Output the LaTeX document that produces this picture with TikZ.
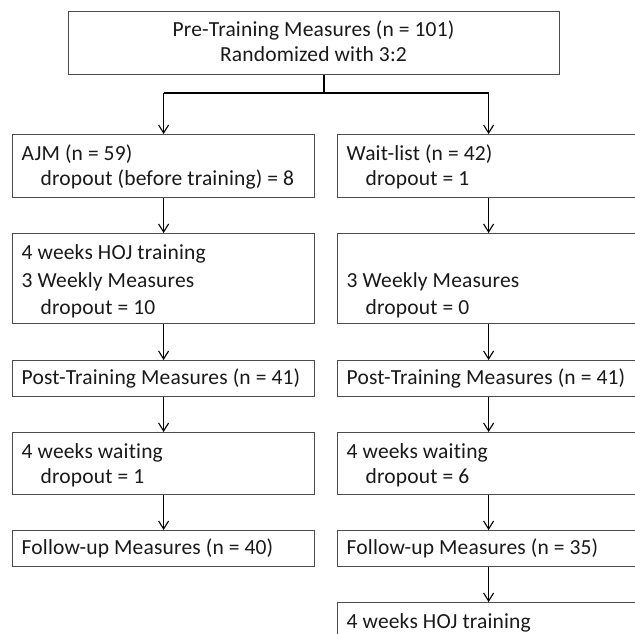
\documentclass[tikz,border=0pt]{standalone}
\usepackage{fontspec}
\setmainfont{Carlito}[Ligatures=NoCommon, LetterSpace=0.8]
\usetikzlibrary{arrows.meta}
\tikzset{
  box/.style={draw=black!70, line width=1.2pt, rectangle, inner sep=0pt, anchor=north west},
  txt/.style={inner sep=0pt, anchor=base west, font=\fontsize{21.5}{25}\selectfont, text=black!90},
  ctxt/.style={inner sep=0pt, anchor=base, font=\fontsize{21.5}{25}\selectfont, text=black!90},
  conn/.style={line width=1.2pt, black, -{Straight Barb[length=8pt,width=10pt,line width=1.1pt]}},
  plain/.style={line width=1.2pt, black}
}
\begin{document}
\begin{tikzpicture}[x=1pt,y=-1pt]
\useasboundingbox (0,0) rectangle (635,633);
\clip (0,0) rectangle (635,633);
% boxes
\node[box, minimum width=491pt, minimum height=63pt] (top) at (68,11) {};
\node[box, minimum width=302pt, minimum height=63pt] (L1) at (12,134) {};
\node[box, minimum width=302pt, minimum height=63pt] (R1) at (337,134) {};
\node[box, minimum width=302pt, minimum height=90pt] (L2) at (12,233) {};
\node[box, minimum width=302pt, minimum height=90pt] (R2) at (337,233) {};
\node[box, minimum width=302pt, minimum height=36pt] (L3) at (12,360) {};
\node[box, minimum width=302pt, minimum height=36pt] (R3) at (337,360) {};
\node[box, minimum width=302pt, minimum height=62pt] (L4) at (12,432) {};
\node[box, minimum width=302pt, minimum height=62pt] (R4) at (337,432) {};
\node[box, minimum width=302pt, minimum height=36pt] (L5) at (12,530) {};
\node[box, minimum width=302pt, minimum height=36pt] (R5) at (337,530) {};
\node[box, minimum width=302pt, minimum height=63pt] (R6) at (337,602) {};
% texts
\node[ctxt] (t1) at (313.5,36.5) {Pre-Training Measures (n = 101)};
\node[ctxt] (t2) at (313.5,61.5) {Randomized with 3:2};
\node[txt] (l1a) at (21.5,160) {AJM (n = 59)};
\node[txt] (l1b) at (40.5,185) {dropout (before training) = 8};
\node[txt] (r1a) at (346.5,160) {Wait-list (n = 42)};
\node[txt] (r1b) at (365.5,185) {dropout = 1};
\node[txt] (l2a) at (21.5,259) {4 weeks HOJ training};
\node[txt] (l2b) at (21.5,287) {3 Weekly Measures};
\node[txt] (l2c) at (40.5,314) {dropout = 10};
\node[txt] (r2b) at (346.5,287) {3 Weekly Measures};
\node[txt] (r2c) at (365.5,314) {dropout = 0};
\node[txt] (l3) at (21.5,384.5) {Post-Training Measures (n = 41)};
\node[txt] (r3) at (346.5,384.5) {Post-Training Measures (n = 41)};
\node[txt] (l4a) at (21.5,458) {4 weeks waiting};
\node[txt] (l4b) at (40.5,483) {dropout = 1};
\node[txt] (r4a) at (346.5,458) {4 weeks waiting};
\node[txt] (r4b) at (365.5,483) {dropout = 6};
\node[txt] (l5) at (21.5,554.5) {Follow-up Measures (n = 40)};
\node[txt] (r5) at (346.5,554.5) {Follow-up Measures (n = 35)};
\node[txt] (r6) at (346.5,628) {4 weeks HOJ training};
% connectors
\coordinate (br) at (324,93);
\draw[plain] (top.south -| br) -- (br);
\draw[plain] (L1.north |- br) -- (R1.north |- br);
\draw[conn] (L1.north |- br) -- (L1.north);
\draw[conn] (R1.north |- br) -- (R1.north);
\draw[conn] (L1) -- (L2);
\draw[conn] (R1) -- (R2);
\draw[conn] (L2) -- (L3);
\draw[conn] (R2) -- (R3);
\draw[conn] (L3) -- (L4);
\draw[conn] (R3) -- (R4);
\draw[conn] (L4) -- (L5);
\draw[conn] (R4) -- (R5);
\draw[conn] (R5) -- (R6);
\end{tikzpicture}
\end{document}
